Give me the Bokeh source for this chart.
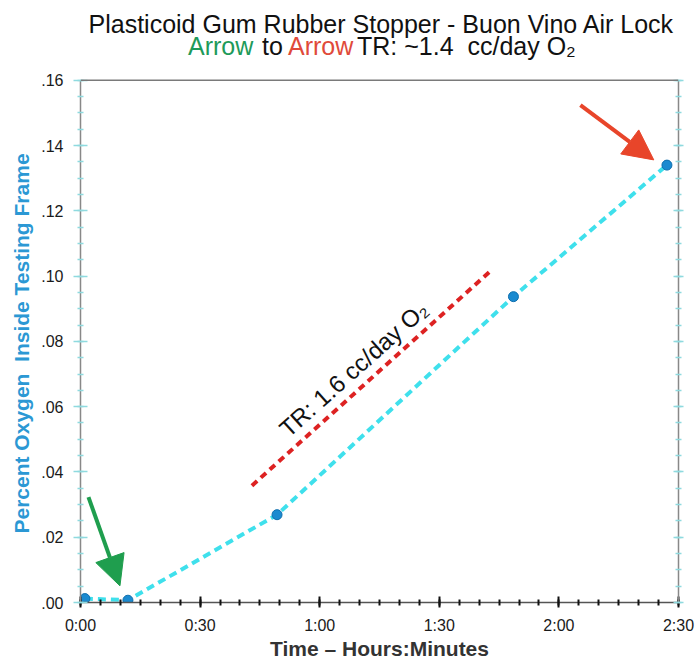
from bokeh.plotting import figure
from bokeh.models import (Range1d, LinearAxis, FixedTicker, Label, Arrow, NormalHead,
                          ColumnDataSource, Span, Title)
from bokeh.embed import file_html
from bokeh.resources import INLINE

# ---- data (time in minutes, oxygen percent) ----
time_min = [1.1, 11.9, 49.3, 108.6, 147.1]
oxygen_pct = [0.0012, 0.0007, 0.0269, 0.0937, 0.134]

trend_time = [43.0, 102.8]
trend_oxygen = [0.0358, 0.1015]

x_ticks = [0, 30, 60, 90, 120, 150]
x_tick_labels = ["0:00", "0:30", "1:00", "1:30", "2:00", "2:30"]
x_minor = list(range(0, 151, 5))

y_ticks = [0.0, 0.02, 0.04, 0.06, 0.08, 0.10, 0.12, 0.14, 0.16]
y_tick_labels = [".00", ".02", ".04", ".06", ".08", ".10", ".12", ".14", ".16"]
y_minor = [0.0, 0.005, 0.01, 0.015, 0.02, 0.025, 0.03, 0.035, 0.04, 0.045, 0.05,
           0.055, 0.06, 0.065, 0.07, 0.075, 0.08, 0.085, 0.09, 0.095, 0.10, 0.105,
           0.11, 0.115, 0.12, 0.125, 0.13, 0.135, 0.14, 0.145, 0.15, 0.155, 0.16]

title_line1 = "Plasticoid Gum Rubber Stopper - Buon Vino Air Lock"
title_line2 = ["Arrow", "to", "Arrow", "TR: ~1.4\u00a0 cc/day O\u2082"]
title_line2_colors = ["#1e9a5a", "#111111", "#e04a3a", "#111111"]
title_line2_x = [26.96, 45.53, 52.05, 69.35]

Y_MAX = 0.16          # top of the plotted scale
Y_VIEW = 0.18443      # extra room above the box for the two-line title

FONT = "Liberation Sans"
TICK_CYAN = "#8fdadf"

p = figure(width=697, height=662, output_backend="svg", toolbar_location=None,
           x_range=Range1d(0, 150), y_range=Range1d(0, Y_VIEW),
           min_border_left=80, min_border_right=19, min_border_top=0,
           min_border_bottom=58, background_fill_color="white")
p.grid.visible = False
p.outline_line_color = None

# x axis
xa = p.xaxis[0]
xa.ticker = FixedTicker(ticks=x_ticks, minor_ticks=x_minor)
xa.major_label_overrides = dict(zip(x_ticks, x_tick_labels))
xa.axis_line_color = "#555555"
xa.axis_line_width = 1.5
xa.major_tick_line_color = "#111111"
xa.minor_tick_line_color = "#111111"
xa.major_tick_line_width = 2
xa.minor_tick_line_width = 2
xa.major_tick_in = 6
xa.major_tick_out = 5
xa.minor_tick_in = 3
xa.minor_tick_out = 3
xa.major_label_text_font = FONT
xa.major_label_text_font_size = "16px"
xa.major_label_text_color = "#1a1a1a"
xa.major_label_standoff = 9
xa.axis_label = "Time \u2013 Hours:Minutes"
xa.axis_label_text_font = FONT
xa.axis_label_text_font_style = "bold"
xa.axis_label_text_font_size = "21px"
xa.axis_label_text_color = "#333333"
xa.axis_label_standoff = 0

# y axis (label drawn as a side title so it can sit lower)
ya = p.yaxis[0]
ya.ticker = FixedTicker(ticks=y_ticks, minor_ticks=y_minor)
ya.bounds = (0, Y_MAX)
ya.major_label_overrides = dict(zip(y_ticks, y_tick_labels))
ya.axis_line_color = "#888888"
ya.axis_line_width = 1.5
ya.major_tick_line_color = TICK_CYAN
ya.minor_tick_line_color = TICK_CYAN
ya.major_tick_line_width = 1.5
ya.minor_tick_line_width = 1.5
ya.major_tick_in = 7
ya.major_tick_out = 7
ya.minor_tick_in = 3
ya.minor_tick_out = 3
ya.major_label_text_font = FONT
ya.major_label_text_font_size = "16px"
ya.major_label_text_color = "#1a1a1a"
ya.major_label_standoff = 10

p.add_layout(Title(text="Percent Oxygen\u00a0 Inside Testing Frame", align="left", offset=69,
                   standoff=12, text_font=FONT, text_font_size="21px",
                   text_font_style="bold", text_color="#2b98d4"), "left")

# right axis (ticks only)
ra = LinearAxis(ticker=FixedTicker(ticks=y_ticks, minor_ticks=y_minor), bounds=(0, Y_MAX))
ra.major_label_overrides = {v: "" for v in y_ticks}
ra.major_label_text_color = None
ra.axis_line_color = "#888888"
ra.axis_line_width = 1.5
ra.major_tick_line_color = TICK_CYAN
ra.minor_tick_line_color = TICK_CYAN
ra.major_tick_line_width = 1.5
ra.minor_tick_line_width = 1.5
ra.major_tick_in = 5
ra.major_tick_out = 5
ra.minor_tick_in = 3
ra.minor_tick_out = 3
ra.major_label_standoff = 0
p.add_layout(ra, "right")

# top border of the plotting box
p.add_layout(Span(location=Y_MAX, dimension="width", line_color="#7a7a7a", line_width=1.5))

# trend line (red dashed)
p.line(trend_time, trend_oxygen, line_color="#dd2222", line_width=4, line_dash="7 5")

# data line + points
src = ColumnDataSource(dict(t=time_min, o=oxygen_pct))
p.line("t", "o", source=src, line_color="#3fe0ec", line_width=4, line_dash="8 5")
p.scatter("t", "o", source=src, size=10, fill_color="#1b8ad0", line_color="#0f6fae",
          line_width=1)

# trend label
p.add_layout(Label(x=50.8, y=0.0522, text="TR: 1.6 cc/day O\u2082", angle=0.73,
                   text_font=FONT, text_font_size="24px", text_color="#111111",
                   text_baseline="alphabetic", text_align="left"))

# arrows
p.add_layout(Arrow(x_start=2.0, y_start=0.0323, x_end=9.9, y_end=0.0051,
                   line_color="#1f9e4e", line_width=4,
                   end=NormalHead(size=30, fill_color="#1f9e4e", line_color="#1f9e4e")))
p.add_layout(Arrow(x_start=125.4, y_start=0.1524, x_end=143.8, y_end=0.1356,
                   line_color="#e8452a", line_width=4,
                   end=NormalHead(size=30, fill_color="#e8452a", line_color="#e8452a")))

# title (two lines, second multi-coloured) in the space above the box
p.add_layout(Label(x=75.5, y=0.1771, text=title_line1, text_font=FONT,
                   text_font_size="25px", text_color="#111111",
                   text_align="center", text_baseline="alphabetic"))
for txt, xx, col in zip(title_line2, title_line2_x, title_line2_colors):
    p.add_layout(Label(x=xx, y=0.1705, text=txt, text_font=FONT, text_font_size="25px",
                       text_color=col, text_align="left", text_baseline="alphabetic"))

open("out.html", "w").write(file_html(p, INLINE))
